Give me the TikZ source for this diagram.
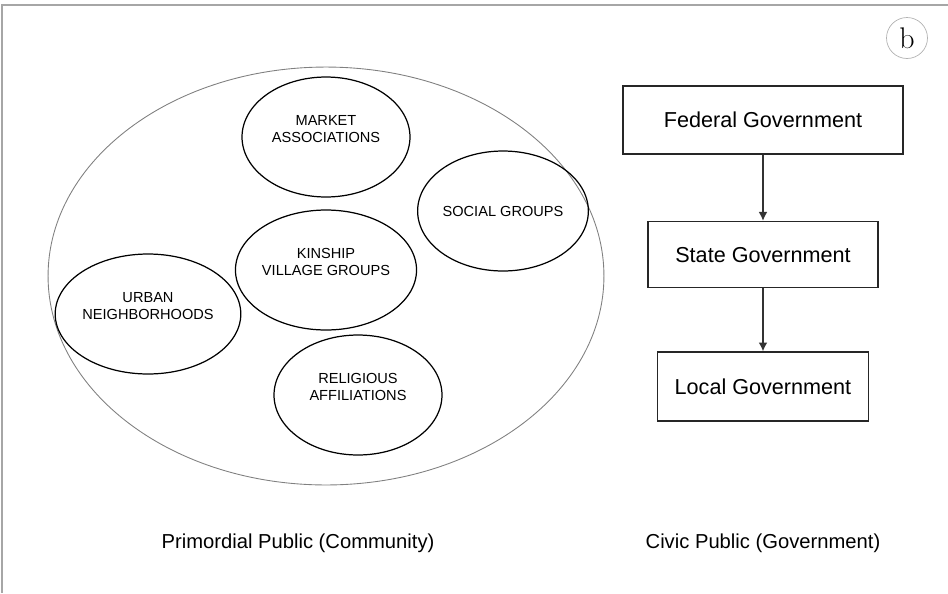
\documentclass[tikz,border=0pt]{standalone}
\usepackage{fontspec}
\usepackage{tikz}
\usetikzlibrary{positioning,shapes.geometric,arrows.meta}
\newfontfamily\arialfont{Liberation Sans}

\begin{document}
\begin{tikzpicture}[x=0.02cm,y=-0.02cm,
    group/.style={ellipse, draw=black, line width=0.7pt, inner sep=0pt,
      minimum width=3.36cm, minimum height=2.4cm, align=center,
      font=\arialfont\fontsize{8.3}{9.7}\selectfont},
    twoline/.style={text depth=9pt},
    level/.style={draw=black!85, line width=0.9pt, minimum height=1.36cm,
      font=\arialfont\fontsize{12.3}{14}\selectfont},
    caption/.style={font=\arialfont\fontsize{11.5}{13}\selectfont}]
    \useasboundingbox (0,0) rectangle (948,593);
    \draw[color=gray!70, line width=0.8pt] (2,593) -- (2,5) -- (948,5);
    \node[circle, draw=gray!60, minimum size=0.82cm, inner sep=0pt,
      font=\fontsize{17}{17}\selectfont] (panel) at (907,38) {b};
    % primordial public
    \node[ellipse, draw=gray, line width=0.5pt, minimum width=11.12cm,
      minimum height=8.36cm] (community) at (326,276) {};
    \node[group, twoline] (market) at (326,137) {MARKET\\ASSOCIATIONS};
    \node[group] (social) at (503,211) {SOCIAL GROUPS};
    \node[group, twoline] (kinship) at (326,270) {KINSHIP\\VILLAGE GROUPS};
    \node[group, twoline] (urban) at (148,314) {URBAN\\NEIGHBORHOODS};
    \node[group, twoline] (religious) at (358,395) {RELIGIOUS\\AFFILIATIONS};
    \node[caption] (primordial) at (298,543) {Primordial Public (Community)};
    % civic public
    \node[level, minimum width=5.6cm] (federal) at (763,120) {Federal Government};
    \node[level, minimum width=4.6cm, minimum height=1.32cm,
      below=1.32cm of federal] (state) {State Government};
    \node[level, minimum width=4.22cm, minimum height=1.38cm,
      below=1.26cm of state] (local) {Local Government};
    \draw[-{Latex[length=5pt,width=5pt]}, line width=0.8pt, color=black!80] (federal) -- (state);
    \draw[-{Latex[length=5pt,width=5pt]}, line width=0.8pt, color=black!80] (state) -- (local);
    \node[caption] (civic) at (763,543) {Civic Public (Government)};
\end{tikzpicture}
\end{document}
